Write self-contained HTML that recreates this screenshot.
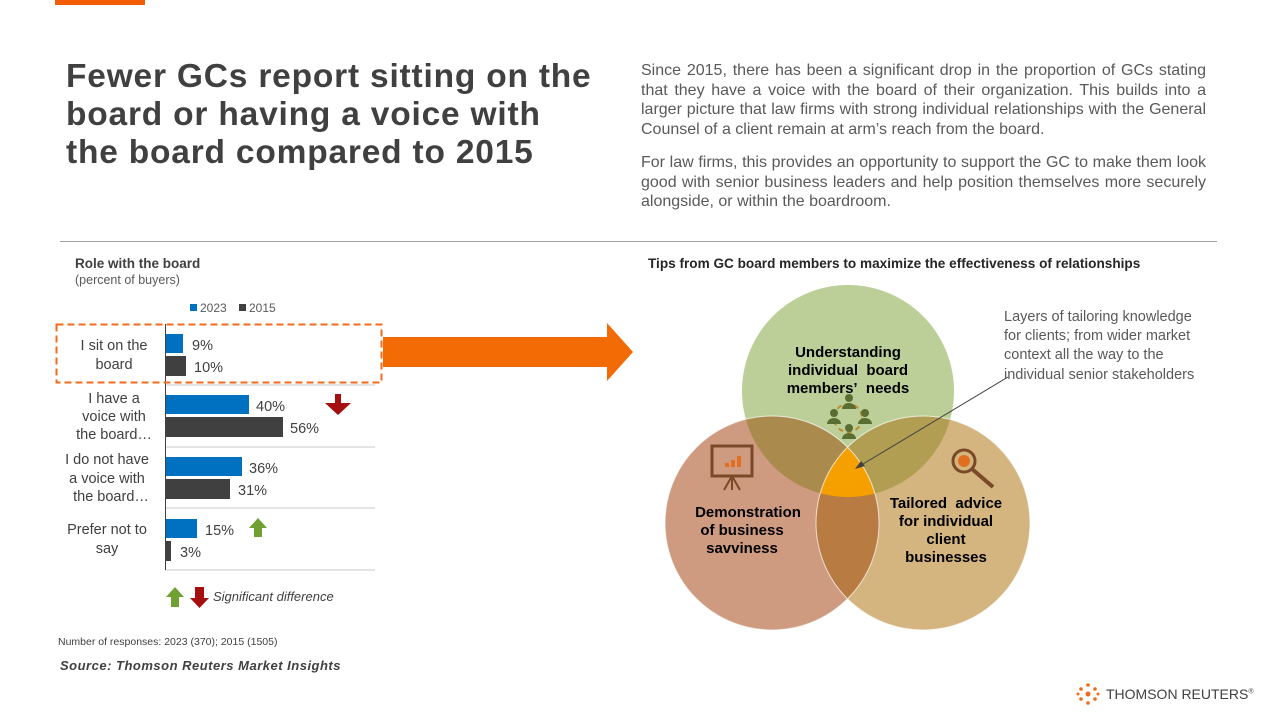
<!DOCTYPE html>
<html><head><meta charset="utf-8"><style>
body{margin:0;width:1280px;height:720px;background:#fff;position:relative;overflow:hidden;font-family:"Liberation Sans",Arial,sans-serif;color:#404040}
.a{position:absolute}
</style></head><body>
<div class="a" style="left:55px;top:0;width:90px;height:5px;background:#f25c05"></div>
<div class="a" style="left:66px;top:58px;font-size:33.5px;letter-spacing:0.8px;font-weight:bold;line-height:38px;color:#404040;white-space:nowrap">Fewer GCs report sitting on the<br>board or having a voice with<br>the board compared to 2015</div>
<div class="a" style="left:641px;top:61px;width:565px;font-size:16px;line-height:19.5px;color:#595959;text-align:justify">Since 2015, there has been a significant drop in the proportion of GCs stating that they have a voice with the board of their organization. This builds into a larger picture that law firms with strong individual relationships with the General Counsel of a client remain at arm’s reach from the board.</div>
<div class="a" style="left:641px;top:153px;width:565px;font-size:16px;line-height:19.5px;color:#595959;text-align:justify">For law firms, this provides an opportunity to support the GC to make them look good with senior business leaders and help position themselves more securely alongside, or within the boardroom.</div>
<div class="a" style="left:60px;top:241px;width:1157px;height:1px;background:#a0a0a0"></div>
<div class="a" style="left:75px;top:256px;font-size:13.5px;font-weight:bold">Role with the board</div>
<div class="a" style="left:75px;top:273px;font-size:12.5px;color:#595959">(percent of buyers)</div>
<div class="a" style="left:648px;top:256px;font-size:13.6px;font-weight:bold;color:#262626">Tips from GC board members to maximize the effectiveness of relationships</div>
<div class="a" style="left:58px;top:636px;font-size:10.5px">Number of responses: 2023 (370); 2015 (1505)</div>
<div class="a" style="left:60px;top:658px;font-size:13px;font-weight:bold;font-style:italic;letter-spacing:0.5px">Source: Thomson Reuters Market Insights</div>
<div class="a" style="left:1106px;top:686px;font-size:14px;color:#404040">THOMSON REUTERS<sup style="font-size:7px">®</sup></div>
<svg class="a" style="left:0;top:0" width="1280" height="720">
<defs>
<clipPath id="cT"><circle cx="848" cy="391" r="106"/></clipPath>
<clipPath id="cL"><circle cx="772" cy="523" r="107"/></clipPath>
</defs>
<rect x="190" y="304" width="7" height="7" fill="#0070c0"/><text x="200" y="312" font-size="12" fill="#595959">2023</text>
<rect x="239" y="304" width="7" height="7" fill="#404040"/><text x="249" y="312" font-size="12" fill="#595959">2015</text>
<g stroke="#c8c8c8" stroke-width="1"><line x1="165" y1="385" x2="375" y2="385"/><line x1="165" y1="447" x2="375" y2="447"/><line x1="165" y1="508" x2="375" y2="508"/><line x1="165" y1="570" x2="375" y2="570"/></g>
<line x1="165.5" y1="324" x2="165.5" y2="570" stroke="#404040"/>
<g fill="#0070c0"><rect x="166" y="334" width="17" height="19"/><rect x="166" y="395" width="83" height="19"/><rect x="166" y="457" width="76" height="19"/><rect x="166" y="519" width="31" height="19"/></g>
<g fill="#404040"><rect x="166" y="356" width="20" height="20"/><rect x="166" y="417" width="117" height="20"/><rect x="166" y="479" width="64" height="20"/><rect x="166" y="541" width="5" height="20"/></g>
<g font-size="14.5" fill="#404040"><text x="192" y="350">9%</text><text x="194" y="372">10%</text><text x="256" y="411">40%</text><text x="290" y="433">56%</text><text x="249" y="473">36%</text><text x="238" y="495">31%</text><text x="205" y="535">15%</text><text x="180" y="557">3%</text></g>
<g font-size="14.5" fill="#404040" text-anchor="middle"><text x="114" y="350">I sit on the</text><text x="114" y="369">board</text>
<text x="114" y="403">I have a</text><text x="114" y="421">voice with</text><text x="114" y="439">the board…</text>
<text x="107" y="464">I do not have</text><text x="107" y="483">a voice with</text><text x="111" y="501">the board…</text>
<text x="107" y="534">Prefer not to</text><text x="107" y="553">say</text></g>
<rect x="56.5" y="324.5" width="325" height="58" fill="none" stroke="#f26b1d" stroke-width="2" stroke-dasharray="7,4"/>
<path d="M325 403h10v-9h6v9h10l-13 12z" fill="#a50f0f"/>
<path d="M258 518l9 10h-5v9h-8v-9h-5z" fill="#70a032"/>
<path d="M175 587l9 10h-5v10h-8v-10h-5z" fill="#70a032"/>
<path d="M195 587h9v11h5l-9.5 10-9.5-10h5z" fill="#a50f0f"/>
<text x="213" y="601" font-size="13" font-style="italic" fill="#404040">Significant difference</text>
<path d="M383 337h224v-14l26 29-26 29v-14h-224z" fill="#f26b05"/>
<circle cx="848" cy="391" r="106" fill="#bccf98"/>
<circle cx="772" cy="523" r="107" fill="#cf9b80"/>
<circle cx="923" cy="523" r="107" fill="#d4b47f"/>
<g clip-path="url(#cT)"><circle cx="772" cy="523" r="107" fill="#ab8a4e"/><circle cx="923" cy="523" r="107" fill="#b19e52"/></g>
<g clip-path="url(#cL)"><circle cx="923" cy="523" r="107" fill="#b87b42"/></g>
<g clip-path="url(#cT)"><g clip-path="url(#cL)"><circle cx="923" cy="523" r="107" fill="#f6a000"/></g></g>
<g fill="none" stroke="#fff" stroke-width="1" opacity=".7"><circle cx="772" cy="523" r="107"/><circle cx="923" cy="523" r="107"/></g>
<g font-size="15" font-weight="bold" fill="#000" text-anchor="middle">
<text x="848" y="357">Understanding</text><text x="848" y="375">individual&#160;&#160;board</text><text x="848" y="393">members’&#160;&#160;needs</text>
<text x="748" y="517">Demonstration</text><text x="742" y="535">of business</text><text x="742" y="553">savviness</text>
<text x="946" y="508">Tailored&#160;&#160;advice</text><text x="946" y="526">for individual</text><text x="946" y="544">client</text><text x="946" y="562">businesses</text></g>
<circle cx="848" cy="418" r="14" fill="none" stroke="#c08a2a" stroke-width="2" stroke-dasharray="5,4"/>
<g fill="#5a6e32"><circle cx="849" cy="398" r="4"/><path d="M842 409a7 6 0 0 1 14 0z"/><circle cx="834" cy="413" r="4"/><path d="M827 424a7 6 0 0 1 14 0z"/><circle cx="865" cy="413" r="4"/><path d="M858 424a7 6 0 0 1 14 0z"/><circle cx="849" cy="428" r="4"/><path d="M842 439a7 6 0 0 1 14 0z"/></g>
<rect x="712" y="446" width="40" height="30" fill="none" stroke="#7a4a28" stroke-width="3"/>
<line x1="732" y1="476" x2="724" y2="490" stroke="#7a4a28" stroke-width="2"/><line x1="732" y1="476" x2="740" y2="490" stroke="#7a4a28" stroke-width="2"/><line x1="732" y1="476" x2="732" y2="490" stroke="#7a4a28" stroke-width="2"/>
<g fill="#e07020"><rect x="725" y="463" width="4" height="4"/><rect x="731" y="460" width="4" height="7"/><rect x="737" y="456" width="4" height="11"/></g>
<circle cx="964" cy="461" r="11" fill="none" stroke="#7a4a28" stroke-width="3"/>
<line x1="972" y1="469" x2="993" y2="487" stroke="#7a4a28" stroke-width="4"/>
<circle cx="964" cy="461" r="6" fill="#e07020"/>
<line x1="1008" y1="377" x2="858" y2="467" stroke="#404040"/><path d="M855 469l10-3-4-5z" fill="#404040"/>
<g font-size="14.5" fill="#595959"><text x="1004" y="321">Layers of tailoring knowledge</text><text x="1004" y="340">for clients; from wider market</text><text x="1004" y="359">context all the way to the</text><text x="1004" y="379">individual senior stakeholders</text></g>
<g fill="#f26b1d"><circle cx="1088" cy="694" r="2.5"/><circle cx="1081" cy="689" r="1.8"/><circle cx="1095" cy="689" r="1.8"/><circle cx="1081" cy="699" r="1.8"/><circle cx="1095" cy="699" r="1.8"/><circle cx="1088" cy="685" r="1.8"/><circle cx="1088" cy="703" r="1.8"/><circle cx="1078" cy="694" r="1.5"/><circle cx="1098" cy="694" r="1.5"/></g>
</svg>
</body></html>
